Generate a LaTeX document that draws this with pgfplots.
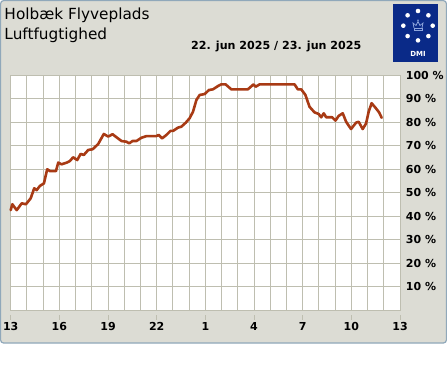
\documentclass[border=0pt]{standalone}
\usepackage{pgfplots}
\pgfplotsset{compat=1.18}
\usepackage{fontspec}
\setmainfont{DejaVu Sans}
\definecolor{bgc}{HTML}{DCDCD4}
\definecolor{gridc}{HTML}{BEBEB0}
\definecolor{linec}{HTML}{A83A14}
\definecolor{framec}{HTML}{90A8BA}
\definecolor{dmiblue}{HTML}{0A2A88}
\definecolor{crownc}{HTML}{8FA6DC}
\begin{document}
\begin{tikzpicture}[x=1pt,y=1pt]
\path[use as bounding box] (0,0) rectangle (447,370);
\fill[white] (0,0) rectangle (447,370);
\draw[framec, line width=1.2pt, fill=bgc, rounded corners=3pt] (0.6,27) rectangle (446.4,369.4);
% titles
\node[anchor=base west, inner sep=0pt, font=\fontsize{15.3}{17}\selectfont] at (4.3,350) {Holbæk Flyveplads};
\node[anchor=base west, inner sep=0pt, font=\fontsize{15.3}{17}\selectfont] at (4.3,330) {Luftfugtighed};
\node[anchor=base east, inner sep=0pt, font=\fontsize{11.1}{13}\selectfont\bfseries] at (361.5,320) {22. jun 2025 / 23. jun 2025};
% DMI logo
\fill[dmiblue] (393.3,308.3) rectangle (437.7,366);
\foreach \a in {0,45,...,315} \fill[white] ({418+14.7*cos(\a)},{344.3+14.7*sin(\a)}) circle (2.3);
\begin{scope}[crownc, line width=0.7pt]
\draw (414,340) rectangle (422,342);
\draw (414,342) -- (413,347) -- (416,344.5) -- (418,348.5) -- (420,344.5) -- (423,347) -- (422,342);
\fill (418,349.8) circle (0.9);
\end{scope}
\node[white, font=\fontsize{7}{8}\selectfont\bfseries, inner sep=0pt] at (418,316) {DMI};
% axis
\begin{axis}[
  at={(10.7pt,60pt)}, anchor=south west,
  scale only axis, width=389.3pt, height=235pt,
  xmin=0, xmax=24, ymin=0, ymax=100,
  axis background/.style={fill=white},
  axis line style={gridc, line width=0.9pt},
  xtick={0,3,...,24},
  xticklabels={13,16,19,22,1,4,7,10,13},
  minor xtick={0,1,...,24},
  ytick={10,20,...,100},
  yticklabels={10 \%,20 \%,30 \%,40 \%,50 \%,60 \%,70 \%,80 \%,90 \%,100 \%},
  grid=both,
  major grid style={gridc, line width=0.9pt},
  minor grid style={gridc, line width=0.9pt},
  major tick length=0pt, minor tick length=0pt,
  yticklabel pos=right,
  yticklabel style={anchor=west, inner sep=0pt, xshift=5.7pt, font=\fontsize{11}{12}\selectfont\bfseries},
  xticklabel style={anchor=base, inner sep=0pt, yshift=-20pt, font=\fontsize{11}{12}\selectfont\bfseries},
  clip=false,
]
\addplot[linec, line width=2.6pt, line join=round, line cap=round] coordinates {
(0,42.5) (0.10,45) (0.37,42.5) (0.68,45.4) (0.94,45) (1.23,47.5) (1.45,51.8) (1.60,51) (1.80,52.8) (2.05,53.9) (2.25,59.9) (2.42,59.1) (2.79,59.1) (2.93,62.7) (3.14,62) (3.45,62.7) (3.65,63.4) (3.85,65) (4.10,63.8) (4.31,66.4) (4.51,66) (4.78,68.1) (5.05,68.4) (5.39,70.6) (5.74,74.9) (6.01,73.8) (6.28,74.8) (6.56,73.3) (6.83,71.9) (7.14,71.6) (7.30,70.9) (7.51,71.9) (7.75,71.9) (8.06,73.3) (8.37,74) (8.98,74) (9.13,74.5) (9.33,73) (9.60,74.5) (9.85,76.2) (10.01,76.2) (10.31,77.6) (10.52,78) (10.79,79.7) (11.03,81.6) (11.24,84.4) (11.45,89.4) (11.65,91.5) (11.96,91.9) (12.22,93.6) (12.47,93.9) (12.78,95.3) (12.98,96) (13.25,96) (13.60,93.9) (14.62,93.9) (14.97,96) (15.10,95) (15.34,96) (17.50,96) (17.70,93.9) (17.91,93.9) (18.17,91.5) (18.42,86.5) (18.73,84.1) (18.99,83.4) (19.14,82) (19.30,83.7) (19.45,82) (19.82,82) (20.02,80.6) (20.22,82.6) (20.47,83.7) (20.68,80.1) (20.98,77) (21.29,79.7) (21.45,80.1) (21.70,77) (21.91,79.4) (22.07,84.4) (22.25,88) (22.52,85.8) (22.72,84) (22.87,81.8)
};
\end{axis}
% x tick marks below axis
\foreach \i in {0,...,8} \draw[gridc, line width=0.9pt] ({10.7+\i*48.6625},55) -- ++(0,-4.5);
\end{tikzpicture}
\end{document}
